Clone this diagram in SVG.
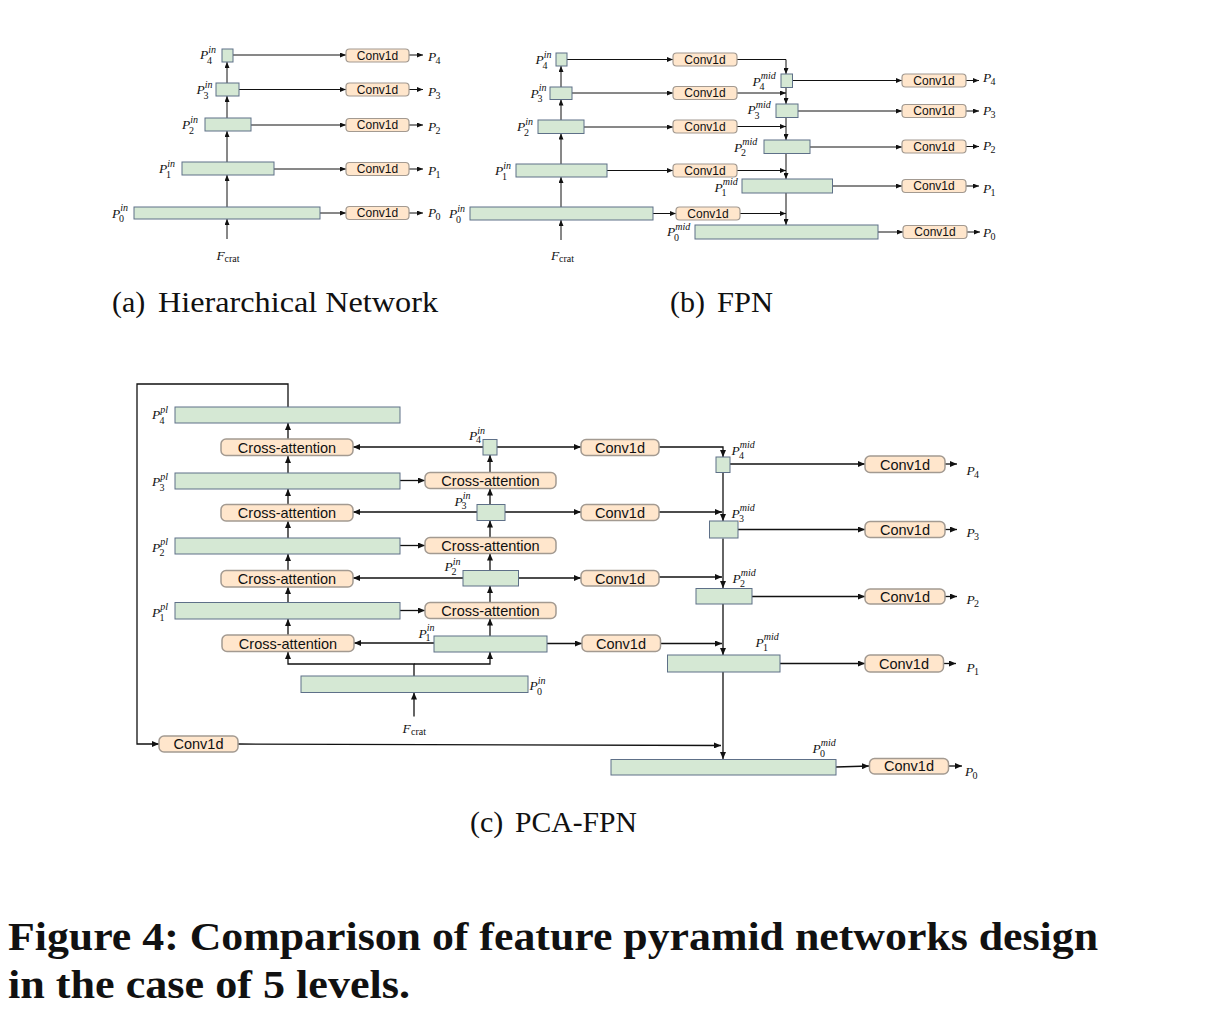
<svg xmlns="http://www.w3.org/2000/svg" width="1206" height="1035" viewBox="0 0 1206 1035">
<defs>
<style>
.g{fill:#d5e8d4;stroke:#5e7088;stroke-width:1}
.c{fill:#ffe6cc;stroke:#a39a91;stroke-width:1.2}
.cc{fill:#ffe6cc;stroke:#a39a91;stroke-width:1.5}
.ln{fill:none;stroke:#111;stroke-width:1;marker-end:url(#ah)}
.lc{fill:none;stroke:#111;stroke-width:1.3;marker-end:url(#ahc)}
.s{font-family:"Liberation Sans",Arial,sans-serif;fill:#111;text-anchor:middle}
.s12{font-size:12px}
.s14{font-size:14.5px}
.m{font-family:"Liberation Serif","Times New Roman",serif;font-style:italic;font-size:13.5px;fill:#111}
.sp{font-size:10px}
.sb{font-size:10px;font-style:normal}
.cap{font-family:"Liberation Serif","Times New Roman",serif;font-size:30px;fill:#111}
.fig{font-family:"Liberation Serif","Times New Roman",serif;font-size:40px;font-weight:bold;fill:#111}
</style>
<marker id="ah" viewBox="0 0 6 5" refX="6" refY="2.5" markerWidth="6" markerHeight="5" markerUnits="userSpaceOnUse" orient="auto"><path d="M0,0L6,2.5L0,5z" fill="#111"/></marker>
<marker id="ahc" viewBox="0 0 7 6" refX="7" refY="3" markerWidth="7" markerHeight="6" markerUnits="userSpaceOnUse" orient="auto"><path d="M0,0L7,3L0,6z" fill="#111"/></marker>
</defs>
<rect width="1206" height="1035" fill="#fff"/>

<!-- ============ Panel (a) ============ -->
<g id="a-connectors">
<path class="ln" d="M227,239V219"/>
<path class="ln" d="M227,207V175"/>
<path class="ln" d="M227,162V131"/>
<path class="ln" d="M227,118V96"/>
<path class="ln" d="M227,83V62"/>
<path class="ln" d="M233,55H346"/>
<path class="ln" d="M239,89.5H346"/>
<path class="ln" d="M251,125H346"/>
<path class="ln" d="M274,169H346"/>
<path class="ln" d="M320,213H346"/>
<path class="ln" d="M409,55H423"/>
<path class="ln" d="M409,89.5H423"/>
<path class="ln" d="M409,125H423"/>
<path class="ln" d="M409,169H423"/>
<path class="ln" d="M409,213H423"/>
</g>
<g id="a-P4in"><rect class="g" x="222" y="49" width="11" height="13"/><text class="m" x="200" y="59">P<tspan class="sp" dy="-6.5">in</tspan><tspan class="sb" x="207" dy="11">4</tspan></text></g>
<g id="a-P3in"><rect class="g" x="216" y="83" width="23" height="13"/><text class="m" x="196.5" y="94">P<tspan class="sp" dy="-6.5">in</tspan><tspan class="sb" x="203.5" dy="11">3</tspan></text></g>
<g id="a-P2in"><rect class="g" x="205" y="118" width="46" height="13"/><text class="m" x="182" y="129">P<tspan class="sp" dy="-6.5">in</tspan><tspan class="sb" x="189" dy="11">2</tspan></text></g>
<g id="a-P1in"><rect class="g" x="182" y="162" width="92" height="13"/><text class="m" x="159" y="173">P<tspan class="sp" dy="-6.5">in</tspan><tspan class="sb" x="166" dy="11">1</tspan></text></g>
<g id="a-P0in"><rect class="g" x="134" y="207" width="186" height="12"/><text class="m" x="112" y="217.5">P<tspan class="sp" dy="-6.5">in</tspan><tspan class="sb" x="119" dy="11">0</tspan></text></g>
<g id="a-conv4"><rect class="c" x="346" y="49" width="63" height="13" rx="3.5"/><text class="s s12" x="377.5" y="59.5">Conv1d</text></g>
<g id="a-conv3"><rect class="c" x="346" y="83" width="63" height="13" rx="3.5"/><text class="s s12" x="377.5" y="93.5">Conv1d</text></g>
<g id="a-conv2"><rect class="c" x="346" y="118.5" width="63" height="13" rx="3.5"/><text class="s s12" x="377.5" y="129">Conv1d</text></g>
<g id="a-conv1"><rect class="c" x="346" y="162.5" width="63" height="13" rx="3.5"/><text class="s s12" x="377.5" y="173">Conv1d</text></g>
<g id="a-conv0"><rect class="c" x="346" y="206.5" width="63" height="13" rx="3.5"/><text class="s s12" x="377.5" y="217">Conv1d</text></g>
<g id="a-out">
<text class="m" x="428" y="61">P<tspan class="sb" x="435.5" dy="3">4</tspan></text>
<text class="m" x="428" y="95.5">P<tspan class="sb" x="435.5" dy="3">3</tspan></text>
<text class="m" x="428" y="131">P<tspan class="sb" x="435.5" dy="3">2</tspan></text>
<text class="m" x="428" y="175">P<tspan class="sb" x="435.5" dy="3">1</tspan></text>
<text class="m" x="428" y="217">P<tspan class="sb" x="435.5" dy="3">0</tspan></text>
</g>
<g id="a-Fcrat"><text class="m" x="216.5" y="260">F<tspan class="sb" x="224.5" dy="2">crat</tspan></text></g>
<text class="cap" x="112" y="312">(a)</text>
<text class="cap" x="158" y="312" textLength="280" lengthAdjust="spacingAndGlyphs">Hierarchical Network</text>

<!-- ============ Panel (b) ============ -->
<g id="b-connectors">
<path class="ln" d="M561,240V220"/>
<path class="ln" d="M561,207V177"/>
<path class="ln" d="M561,164V133.5"/>
<path class="ln" d="M561,120V99.5"/>
<path class="ln" d="M561,87V66"/>
<path class="ln" d="M567,59.5H673"/>
<path class="ln" d="M572,93H673"/>
<path class="ln" d="M584,127H673"/>
<path class="ln" d="M607,170.5H673"/>
<path class="ln" d="M653,213.5H676"/>
<path class="ln" d="M737,59.5H786V74"/>
<path class="ln" d="M737,93H786"/>
<path class="ln" d="M737,126.5H786"/>
<path class="ln" d="M737,170.5H786"/>
<path class="ln" d="M740,213.5H786"/>
<path class="ln" d="M786,87.5V104"/>
<path class="ln" d="M786,117.5V140"/>
<path class="ln" d="M786,153.5V179"/>
<path class="ln" d="M786,193V225"/>
<path class="ln" d="M792.5,80.5H902"/>
<path class="ln" d="M798,111H902"/>
<path class="ln" d="M810,147H902"/>
<path class="ln" d="M832.5,186H902"/>
<path class="ln" d="M878,232H903"/>
<path class="ln" d="M966,80.5H979"/>
<path class="ln" d="M966,111H979"/>
<path class="ln" d="M966,146.5H979"/>
<path class="ln" d="M966,186H979"/>
<path class="ln" d="M967,232H980"/>
</g>
<g id="b-P4in"><rect class="g" x="556" y="53" width="11" height="13"/><text class="m" x="535.5" y="64">P<tspan class="sp" dy="-6.5">in</tspan><tspan class="sb" x="542.5" dy="11">4</tspan></text></g>
<g id="b-P3in"><rect class="g" x="550" y="87" width="22" height="12.5"/><text class="m" x="530.5" y="97.5">P<tspan class="sp" dy="-6.5">in</tspan><tspan class="sb" x="537.5" dy="11">3</tspan></text></g>
<g id="b-P2in"><rect class="g" x="538" y="120" width="46" height="13.5"/><text class="m" x="517" y="131">P<tspan class="sp" dy="-6.5">in</tspan><tspan class="sb" x="524" dy="11">2</tspan></text></g>
<g id="b-P1in"><rect class="g" x="516" y="164" width="91" height="13"/><text class="m" x="495" y="175">P<tspan class="sp" dy="-6.5">in</tspan><tspan class="sb" x="502" dy="11">1</tspan></text></g>
<g id="b-P0in"><rect class="g" x="470" y="207" width="183" height="13"/><text class="m" x="449" y="218">P<tspan class="sp" dy="-6.5">in</tspan><tspan class="sb" x="456" dy="11">0</tspan></text></g>
<g id="b-conv4"><rect class="c" x="673" y="53" width="64" height="13" rx="3.5"/><text class="s s12" x="705" y="63.5">Conv1d</text></g>
<g id="b-conv3"><rect class="c" x="673" y="86.5" width="64" height="13" rx="3.5"/><text class="s s12" x="705" y="97">Conv1d</text></g>
<g id="b-conv2"><rect class="c" x="673" y="120" width="64" height="13" rx="3.5"/><text class="s s12" x="705" y="130.5">Conv1d</text></g>
<g id="b-conv1"><rect class="c" x="673" y="164" width="64" height="13" rx="3.5"/><text class="s s12" x="705" y="174.5">Conv1d</text></g>
<g id="b-conv0"><rect class="c" x="676" y="207" width="64" height="13" rx="3.5"/><text class="s s12" x="708" y="217.5">Conv1d</text></g>
<g id="b-P4mid"><rect class="g" x="781" y="74" width="11.5" height="13.5"/><text class="m" x="752.5" y="85.5">P<tspan class="sp" dy="-6.5">mid</tspan><tspan class="sb" x="759.5" dy="11">4</tspan></text></g>
<g id="b-P3mid"><rect class="g" x="776" y="104" width="22" height="13.5"/><text class="m" x="747.5" y="114">P<tspan class="sp" dy="-6.5">mid</tspan><tspan class="sb" x="754.5" dy="11">3</tspan></text></g>
<g id="b-P2mid"><rect class="g" x="764" y="140" width="46" height="13.5"/><text class="m" x="734" y="151.5">P<tspan class="sp" dy="-6.5">mid</tspan><tspan class="sb" x="741" dy="11">2</tspan></text></g>
<g id="b-P1mid"><rect class="g" x="742" y="179" width="90.5" height="14"/><text class="m" x="714.5" y="191.5">P<tspan class="sp" dy="-6.5">mid</tspan><tspan class="sb" x="721.5" dy="11">1</tspan></text></g>
<g id="b-P0mid"><rect class="g" x="695" y="225" width="183" height="14"/><text class="m" x="667" y="236">P<tspan class="sp" dy="-6.5">mid</tspan><tspan class="sb" x="674" dy="11">0</tspan></text></g>
<g id="b-oconv4"><rect class="c" x="902" y="74" width="64" height="13" rx="3.5"/><text class="s s12" x="934" y="84.5">Conv1d</text></g>
<g id="b-oconv3"><rect class="c" x="902" y="104.5" width="64" height="13" rx="3.5"/><text class="s s12" x="934" y="115">Conv1d</text></g>
<g id="b-oconv2"><rect class="c" x="902" y="140" width="64" height="13" rx="3.5"/><text class="s s12" x="934" y="150.5">Conv1d</text></g>
<g id="b-oconv1"><rect class="c" x="902" y="179.5" width="64" height="13" rx="3.5"/><text class="s s12" x="934" y="190">Conv1d</text></g>
<g id="b-oconv0"><rect class="c" x="903" y="225.5" width="64" height="13" rx="3.5"/><text class="s s12" x="935" y="236">Conv1d</text></g>
<g id="b-out">
<text class="m" x="983" y="82">P<tspan class="sb" x="990.5" dy="3">4</tspan></text>
<text class="m" x="983" y="115">P<tspan class="sb" x="990.5" dy="3">3</tspan></text>
<text class="m" x="983" y="150">P<tspan class="sb" x="990.5" dy="3">2</tspan></text>
<text class="m" x="983" y="193">P<tspan class="sb" x="990.5" dy="3">1</tspan></text>
<text class="m" x="983" y="236.5">P<tspan class="sb" x="990.5" dy="3">0</tspan></text>
</g>
<g id="b-Fcrat"><text class="m" x="551" y="260">F<tspan class="sb" x="559" dy="2">crat</tspan></text></g>
<text class="cap" x="670" y="312">(b)</text>
<text class="cap" x="717" y="312" textLength="56" lengthAdjust="spacingAndGlyphs">FPN</text>

<!-- ============ Panel (c) ============ -->
<g id="c-connectors">
<path class="lc" d="M288,407V384H137V744H159"/>
<path class="lc" d="M238,744L721,745.5"/>
<path class="lc" d="M414,676V664H288V652"/>
<path class="lc" d="M414,664H490V652"/>
<path class="lc" d="M414,716.5V692.5"/>
<path class="lc" d="M288,635V619"/>
<path class="lc" d="M288,602V587"/>
<path class="lc" d="M288,571V554"/>
<path class="lc" d="M288,538V521"/>
<path class="lc" d="M288,504V489"/>
<path class="lc" d="M288,473V456"/>
<path class="lc" d="M288,439V423"/>
<path class="lc" d="M490,636V618.5"/>
<path class="lc" d="M490,602V586"/>
<path class="lc" d="M490,571V553.5"/>
<path class="lc" d="M490,537V520.5"/>
<path class="lc" d="M490,504V488.5"/>
<path class="lc" d="M490,472V455"/>
<path class="lc" d="M483,447H353"/>
<path class="lc" d="M477,512H353"/>
<path class="lc" d="M463,578H353"/>
<path class="lc" d="M434,643H354"/>
<path class="lc" d="M400,480.5H425"/>
<path class="lc" d="M400,545.5H425"/>
<path class="lc" d="M400,610.5H425"/>
<path class="lc" d="M497,447H581"/>
<path class="lc" d="M505,512H581"/>
<path class="lc" d="M518.5,578H581"/>
<path class="lc" d="M547,643.5H582"/>
<path class="lc" d="M659,447H723V457"/>
<path class="lc" d="M659,512H722"/>
<path class="lc" d="M659,577H722"/>
<path class="lc" d="M660.5,643.5H722"/>
<path class="lc" d="M723,472V521"/>
<path class="lc" d="M723,538.5V588"/>
<path class="lc" d="M723,604V655"/>
<path class="lc" d="M723,672V759"/>
<path class="lc" d="M730,464H865"/>
<path class="lc" d="M738,529.5H865"/>
<path class="lc" d="M752,596.5H865"/>
<path class="lc" d="M780,663.5H865"/>
<path class="lc" d="M836,767L869,766"/>
<path class="lc" d="M945,464H957"/>
<path class="lc" d="M945,529.5H957"/>
<path class="lc" d="M945,596.5H957"/>
<path class="lc" d="M943.5,663.5H956"/>
<path class="lc" d="M948.5,766H962"/>
</g>
<g id="c-P4pl"><rect class="g" x="175" y="407" width="225" height="16"/><text class="m" x="152" y="419">P<tspan class="sp" dy="-6.5">pl</tspan><tspan class="sb" x="159.5" dy="11">4</tspan></text></g>
<g id="c-P3pl"><rect class="g" x="175" y="473" width="225" height="16"/><text class="m" x="152" y="486">P<tspan class="sp" dy="-6.5">pl</tspan><tspan class="sb" x="159.5" dy="11">3</tspan></text></g>
<g id="c-P2pl"><rect class="g" x="175" y="538" width="225" height="16"/><text class="m" x="152" y="551.5">P<tspan class="sp" dy="-6.5">pl</tspan><tspan class="sb" x="159.5" dy="11">2</tspan></text></g>
<g id="c-P1pl"><rect class="g" x="175" y="602.5" width="225" height="16.5"/><text class="m" x="152" y="616.5">P<tspan class="sp" dy="-6.5">pl</tspan><tspan class="sb" x="159.5" dy="11">1</tspan></text></g>
<g id="c-ca4"><rect class="cc" x="221" y="439" width="132" height="16.5" rx="5"/><text class="s s14" x="287" y="452.5">Cross-attention</text></g>
<g id="c-ca3"><rect class="cc" x="221" y="504.5" width="132" height="16.5" rx="5"/><text class="s s14" x="287" y="518">Cross-attention</text></g>
<g id="c-ca2"><rect class="cc" x="221" y="570.5" width="132" height="16.5" rx="5"/><text class="s s14" x="287" y="584">Cross-attention</text></g>
<g id="c-ca1"><rect class="cc" x="222" y="635" width="132" height="16.5" rx="5"/><text class="s s14" x="288" y="648.5">Cross-attention</text></g>
<g id="c-car3"><rect class="cc" x="425" y="472.5" width="131" height="16" rx="5"/><text class="s s14" x="490.5" y="485.5">Cross-attention</text></g>
<g id="c-car2"><rect class="cc" x="425" y="537.5" width="131" height="16" rx="5"/><text class="s s14" x="490.5" y="550.5">Cross-attention</text></g>
<g id="c-car1"><rect class="cc" x="425" y="602.5" width="131" height="16" rx="5"/><text class="s s14" x="490.5" y="615.5">Cross-attention</text></g>
<g id="c-P4in"><rect class="g" x="483" y="439.5" width="14" height="15.5"/><text class="m" x="469" y="440">P<tspan class="sp" dy="-6.5">in</tspan><tspan class="sb" x="476" dy="9">4</tspan></text></g>
<g id="c-P3in"><rect class="g" x="477" y="504.5" width="28" height="16"/><text class="m" x="454.5" y="505.5">P<tspan class="sp" dy="-6.5">in</tspan><tspan class="sb" x="461.5" dy="10">3</tspan></text></g>
<g id="c-P2in"><rect class="g" x="463" y="570.5" width="55.5" height="15.5"/><text class="m" x="444.5" y="571">P<tspan class="sp" dy="-6.5">in</tspan><tspan class="sb" x="451.5" dy="10">2</tspan></text></g>
<g id="c-P1in"><rect class="g" x="434" y="636" width="113" height="16"/><text class="m" x="418.5" y="637.5">P<tspan class="sp" dy="-6.5">in</tspan><tspan class="sb" x="425.5" dy="10">1</tspan></text></g>
<g id="c-P0in"><rect class="g" x="301" y="676" width="227" height="16.5"/><text class="m" x="529.5" y="690">P<tspan class="sp" dy="-6.5">in</tspan><tspan class="sb" x="537" dy="11">0</tspan></text></g>
<g id="c-Fcrat"><text class="m" x="402.5" y="733">F<tspan class="sb" x="411" dy="2">crat</tspan></text></g>
<g id="c-conv-pl"><rect class="cc" x="159" y="736" width="79" height="16" rx="5"/><text class="s s14" x="198.5" y="749">Conv1d</text></g>
<g id="c-conv4"><rect class="cc" x="581" y="439.5" width="78" height="16" rx="5"/><text class="s s14" x="620" y="452.5">Conv1d</text></g>
<g id="c-conv3"><rect class="cc" x="581" y="504.5" width="78" height="16" rx="5"/><text class="s s14" x="620" y="517.5">Conv1d</text></g>
<g id="c-conv2"><rect class="cc" x="581" y="570.5" width="78" height="15.5" rx="5"/><text class="s s14" x="620" y="583.5">Conv1d</text></g>
<g id="c-conv1"><rect class="cc" x="582" y="635" width="78.5" height="16.5" rx="5"/><text class="s s14" x="621" y="648.5">Conv1d</text></g>
<g id="c-P4mid"><rect class="g" x="716" y="457" width="14" height="15.5"/><text class="m" x="731.5" y="455">P<tspan class="sp" dy="-7">mid</tspan><tspan class="sb" x="739" dy="11">4</tspan></text></g>
<g id="c-P3mid"><rect class="g" x="709.5" y="521" width="28.5" height="17"/><text class="m" x="731.5" y="518">P<tspan class="sp" dy="-7">mid</tspan><tspan class="sb" x="739" dy="11">3</tspan></text></g>
<g id="c-P2mid"><rect class="g" x="696" y="588.5" width="56" height="15.5"/><text class="m" x="732.5" y="583">P<tspan class="sp" dy="-7">mid</tspan><tspan class="sb" x="740" dy="11">2</tspan></text></g>
<g id="c-P1mid"><rect class="g" x="667.5" y="655" width="112.5" height="17"/><text class="m" x="755.5" y="647">P<tspan class="sp" dy="-7">mid</tspan><tspan class="sb" x="763" dy="11">1</tspan></text></g>
<g id="c-P0mid"><rect class="g" x="611" y="759.5" width="225" height="15.5"/><text class="m" x="812.5" y="753">P<tspan class="sp" dy="-7">mid</tspan><tspan class="sb" x="820" dy="11">0</tspan></text></g>
<g id="c-oconv4"><rect class="cc" x="865" y="456" width="80" height="16.5" rx="5"/><text class="s s14" x="905" y="469.5">Conv1d</text></g>
<g id="c-oconv3"><rect class="cc" x="865" y="521.5" width="80" height="16" rx="5"/><text class="s s14" x="905" y="534.5">Conv1d</text></g>
<g id="c-oconv2"><rect class="cc" x="865" y="589" width="80" height="15" rx="5"/><text class="s s14" x="905" y="601.5">Conv1d</text></g>
<g id="c-oconv1"><rect class="cc" x="865" y="655" width="78.5" height="17" rx="5"/><text class="s s14" x="904" y="668.5">Conv1d</text></g>
<g id="c-oconv0"><rect class="cc" x="869.5" y="758.5" width="79" height="15.5" rx="5"/><text class="s s14" x="909" y="771">Conv1d</text></g>
<g id="c-out">
<text class="m" x="966.5" y="475">P<tspan class="sb" x="974" dy="3">4</tspan></text>
<text class="m" x="966.5" y="537">P<tspan class="sb" x="974" dy="3">3</tspan></text>
<text class="m" x="966.5" y="604">P<tspan class="sb" x="974" dy="3">2</tspan></text>
<text class="m" x="966.5" y="672">P<tspan class="sb" x="974" dy="3">1</tspan></text>
<text class="m" x="965" y="776">P<tspan class="sb" x="972.5" dy="3">0</tspan></text>
</g>
<text class="cap" x="470" y="832">(c)</text>
<text class="cap" x="515" y="832" textLength="122" lengthAdjust="spacingAndGlyphs">PCA-FPN</text>

<!-- ============ Figure caption ============ -->
<text class="fig" x="8" y="950" textLength="1090" lengthAdjust="spacingAndGlyphs">Figure 4: Comparison of feature pyramid networks design</text>
<text class="fig" x="8" y="998" textLength="402" lengthAdjust="spacingAndGlyphs">in the case of 5 levels.</text>
</svg>
